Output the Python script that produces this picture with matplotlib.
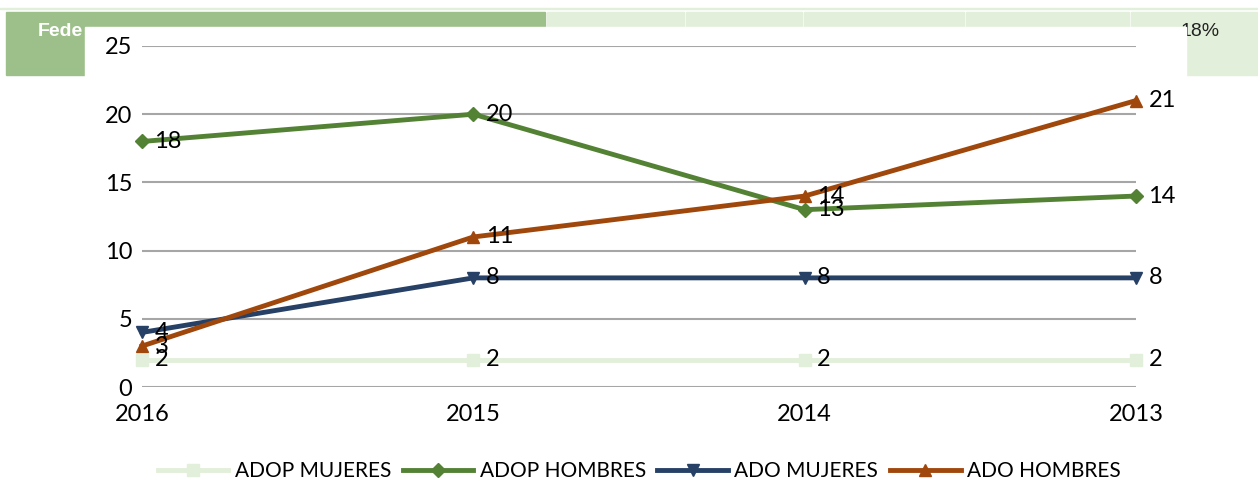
import matplotlib.pyplot as plt
from matplotlib.patches import Rectangle

years = ['2016', '2015', '2014', '2013']
adop_mujeres = [2, 2, 2, 2]
adop_hombres = [18, 20, 13, 14]
ado_mujeres = [4, 8, 8, 8]
ado_hombres = [3, 11, 14, 21]

plt.rcParams['font.family'] = ['Lato', 'DejaVu Sans']

W, H = 1258, 483
fig = plt.figure(figsize=(W / 100, H / 100), dpi=100)

def px_rect(x0, y0, x1, y1, color, z=0):
    # rectangle given in pixel coords (top-left origin)
    fig.patches.append(Rectangle((x0 / W, 1 - y1 / H), (x1 - x0) / W, (y1 - y0) / H,
                                 transform=fig.transFigure, color=color, zorder=z))

# leftover table behind the chart
px_rect(0, 8, W, 9, '#e2efda')
px_rect(6, 12, 545, 75, '#9dc08b')
for a, b in [(547, 684), (686, 802), (804, 964), (966, 1129), (1131, W)]:
    px_rect(a, 12, b, 27, '#e2efda')
px_rect(1186, 27, W, 75, '#e2efda')
fig.text(38 / W, 1 - 32 / H, 'Fede', color='white', fontsize=14, fontweight='bold',
         va='center', ha='left', family=['Liberation Sans'], zorder=0.5)
fig.text(1180 / W, 1 - 32 / H, '18%', color='#222222', fontsize=14,
         va='center', ha='left', family=['Liberation Sans'], zorder=0.5)
px_rect(85, 27, 1186, H, 'white', z=1)

ax = fig.add_axes([142 / W, 1 - 387 / H, (1136 - 142) / W, (387 - 46) / H], zorder=3)
ax.patch.set_alpha(0)

x = list(range(len(years)))
series = [
    ('ADOP MUJERES', adop_mujeres, '#e2efda', 's'),
    ('ADOP HOMBRES', adop_hombres, '#548235', 'D'),
    ('ADO MUJERES', ado_mujeres, '#264066', 'v'),
    ('ADO HOMBRES', ado_hombres, '#a0470c', '^'),
]
for name, vals, col, mk in series:
    ax.plot(x, vals, color=col, lw=3.5, marker=mk, ms=8.5 if mk != 'D' else 7,
            label=name, clip_on=False, zorder=4)
    for xi, v in zip(x, vals):
        ax.annotate(str(v), (xi, v), xytext=(9, 0), textcoords='offset points',
                    va='center', ha='left', fontsize=17, color='black', zorder=5)

ax.set_xlim(0, 3)
ax.set_ylim(0, 25)
ax.set_yticks(range(0, 26, 5))
ax.set_xticks(x)
ax.set_xticklabels(years)
ax.yaxis.grid(True, color='#a6a6a6', lw=1.5)
ax.set_axisbelow(True)
for s in ax.spines.values():
    s.set_visible(False)
ax.tick_params(length=0, labelsize=17, colors='black')
ax.tick_params(axis='x', pad=12)
ax.tick_params(axis='y', pad=7)

fig.legend(loc='center', bbox_to_anchor=(0.508, 1 - 471 / H), ncol=4, frameon=False,
           fontsize=15, handlelength=3.4, columnspacing=0.55, handletextpad=0.3)

fig.savefig('out.png', dpi=100)
